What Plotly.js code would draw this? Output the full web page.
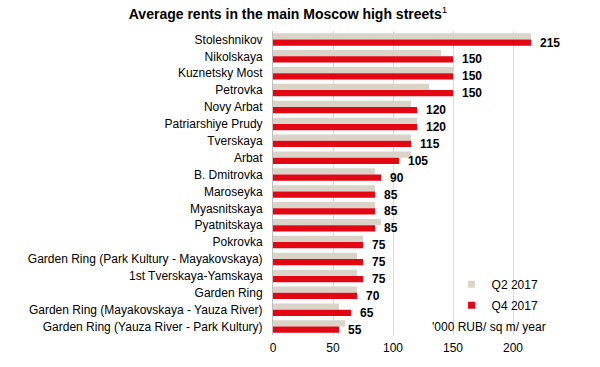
<!DOCTYPE html>
<html><head><meta charset="utf-8">
<script src="https://cdn.plot.ly/plotly-3.0.1.min.js"></script>
<style>body{margin:0;background:#fff}#c{width:600px;height:367px}</style>
</head><body><div id="c"></div>
<script>
const streets = ["Stoleshnikov","Nikolskaya","Kuznetsky Most","Petrovka","Novy Arbat","Patriarshiye Prudy","Tverskaya","Arbat","B. Dmitrovka","Maroseyka","Myasnitskaya","Pyatnitskaya","Pokrovka","Garden Ring (Park Kultury - Mayakovskaya)","1st Tverskaya-Yamskaya","Garden Ring","Garden Ring (Mayakovskaya - Yauza River)","Garden Ring (Yauza River - Park Kultury)"];
const q2_2017 = [215,140,150,130,115,120,115,115,85,85,85,90,75,70,70,70,55,60];
const q4_2017 = [215,150,150,150,120,120,115,105,90,85,85,85,75,75,75,70,65,55];
const xTicks = [0,50,100,150,200];
const font = "Liberation Sans, Arial, sans-serif";
const c2 = '#d9d4c7', c4 = '#e30613';

const data = [
  {type:'bar', orientation:'h', name:'Q2 2017', y:streets, x:q2_2017, showlegend:false,
   marker:{color:c2}, hoverinfo:'x'},
  {type:'bar', orientation:'h', name:'Q4 2017', y:streets, x:q4_2017, showlegend:false,
   marker:{color:c4}, text:q4_2017.map(v => '\u2002' + v), textposition:'outside', constraintext:'none',
   cliponaxis:false, textfont:{family:font, size:12, color:'#000', weight:'bold'}, hoverinfo:'x'},
  {type:'scatter', mode:'markers', name:'Q2 2017', legendgroup:'a', x:[null], y:[null], marker:{symbol:'square', size:7, color:c2}},
  {type:'scatter', mode:'markers', name:'Q4 2017', legendgroup:'b', x:[null], y:[null], marker:{symbol:'square', size:7, color:c4}}
];
const layout = {
  width:600, height:367,
  margin:{l:273, r:39, t:31, b:32},
  paper_bgcolor:'#fff', plot_bgcolor:'#fff',
  font:{family:font, size:12, color:'#000'},
  title:{text:'<b>Average rents in the main Moscow high streets</b><sup>1</sup>', x:0.48, xanchor:'center', y:0.962, yanchor:'middle', font:{family:font, size:14, color:'#000'}},
  barmode:'group', bargap:0.26, bargroupgap:0,
  xaxis:{range:[0,240], tickvals:xTicks, ticktext:xTicks.map(String), showgrid:true, gridcolor:'#d9d9d9', gridwidth:1,
         zeroline:false, showline:false, ticks:'', tickfont:{family:font, size:12, color:'#000'}, ticklabelstandoff:4, fixedrange:true},
  yaxis:{autorange:'reversed', type:'category', showline:true, linecolor:'#bfbfbf', linewidth:1, ticks:'',
         tickfont:{family:font, size:12, color:'#000'}, ticklabelstandoff:7, fixedrange:true},
  showlegend:true,
  legend:{x:0.62, y:0.215, xanchor:'left', yanchor:'top', bgcolor:'rgba(0,0,0,0)', font:{family:font, size:12, color:'#000'},
          itemwidth:30, tracegroupgap:2, traceorder:'grouped'},
  annotations:[{text:"'000 RUB/ sq m/ year", xref:'paper', yref:'paper', x:0.955, y:0.025, xanchor:'right', yanchor:'middle',
                showarrow:false, font:{family:font, size:12, color:'#000'}}]
};
Plotly.newPlot('c', data, layout, {displayModeBar:false, staticPlot:true});
</script></body></html>
